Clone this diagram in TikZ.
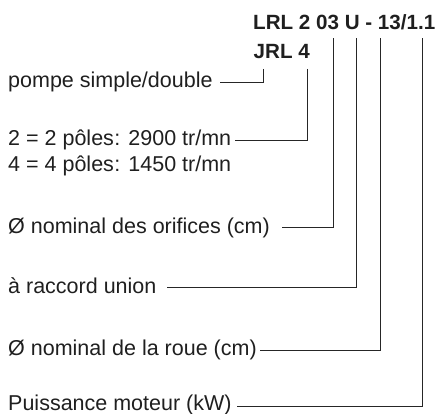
\documentclass[tikz,border=0pt]{standalone}
\usepackage{fontspec}
\setmainfont{Liberation Sans}
\begin{document}
\begin{tikzpicture}[x=1pt,y=-1pt,
  lbl/.style={anchor=base west,inner sep=0pt,text=black!88,font=\fontsize{21.5}{24}\selectfont},
  code/.style={anchor=base west,inner sep=0pt,text=black!88,font=\fontsize{20.6}{24}\selectfont\bfseries},
  conn/.style={draw=black!85,line width=0.9pt}]
\useasboundingbox (0,0) rectangle (441,414);
% code
\node[code] (hdr) at (253,30) {LRL 2 03 U - 13/1.1};
\node[code] (jrl) at (253.5,58.3) {JRL 4};
% labels
\node[lbl] (pompe) at (8,87.5) {pompe simple/double};
\node[lbl] (p2) at (8,145.7) {2 = 2 pôles\kern0.5pt: 2900 tr/mn};
\node[lbl] (p4) at (8,171.7) {4 = 4 pôles\kern0.5pt: 1450 tr/mn};
\node[lbl] (orif) at (8,233) {Ø nominal des orifices (cm)};
\node[lbl] (racc) at (8,293) {à raccord union};
\node[lbl] (roue) at (8,355.5) {Ø nominal de la roue (cm)};
\node[lbl] (puis) at (8,410.5) {Puissance moteur (kW)};
% connector ends
\coordinate (tA) at (263,69);    \coordinate (eA) at (220,82.3);
\coordinate (tB) at (307,69);    \coordinate (eB) at (235,140);
\coordinate (tC) at (333.5,38.3); \coordinate (eC) at (281.7,227.3);
\coordinate (tD) at (356,38.3);  \coordinate (eD) at (166.7,287.3);
\coordinate (tE) at (380,38.3);  \coordinate (eE) at (260,350);
\coordinate (tF) at (422.7,38.3); \coordinate (eF) at (237,406);
\draw[conn] (tA) |- (eA);
\draw[conn] (tB) |- (eB);
\draw[conn] (tC) |- (eC);
\draw[conn] (tD) |- (eD);
\draw[conn] (tE) |- (eE);
\draw[conn] (tF) |- (eF);
\end{tikzpicture}
\end{document}
